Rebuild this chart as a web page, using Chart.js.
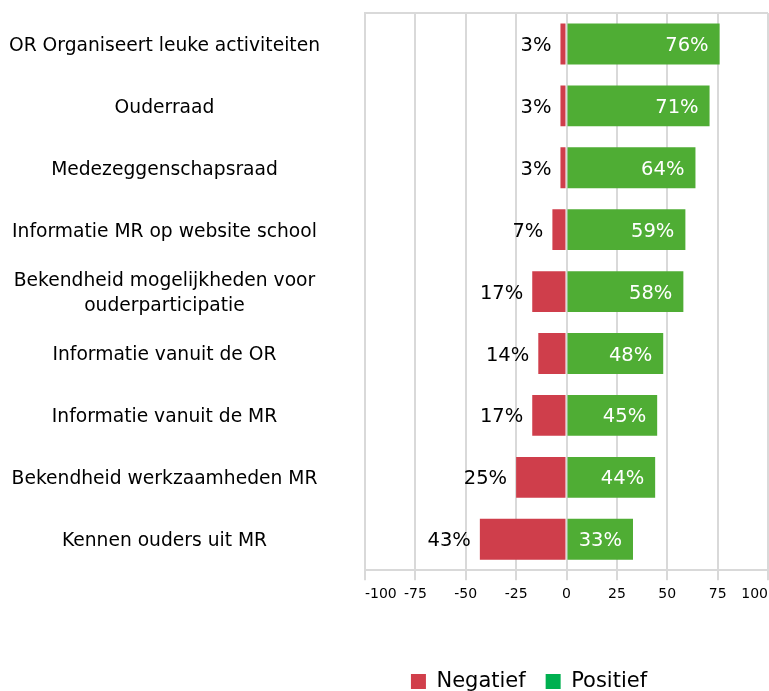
<!DOCTYPE html>
<html>
<head>
<meta charset="utf-8">
<script src="https://cdn.jsdelivr.net/npm/chart.js@4/dist/chart.umd.min.js"></script>
<style>
  html, body { margin: 0; padding: 0; background: #fff; }
  #wrap { width: 769px; height: 691px; }
</style>
</head>
<body>
<div id="wrap"><canvas id="myChart"></canvas></div>
<script>
const categories = [
    'OR Organiseert leuke activiteiten',
    'Ouderraad',
    'Medezeggenschapsraad',
    'Informatie MR op website school',
    ['Bekendheid mogelijkheden voor', 'ouderparticipatie'],
    'Informatie vanuit de OR',
    'Informatie vanuit de MR',
    'Bekendheid werkzaamheden MR',
    'Kennen ouders uit MR'
];
const negatief = [-3, -3, -3, -7, -17, -14, -17, -25, -43];
const positief = [76, 71, 64, 59, 58, 48, 45, 44, 33];
const xTicks = [-100, -75, -50, -25, 0, 25, 50, 75, 100];

const FONT = '"DejaVu Sans", Verdana, sans-serif';

// percent labels next to / inside the bars
const barLabels = {
    id: 'barLabels',
    afterDatasetsDraw(chart) {
        const ctx = chart.ctx;
        ctx.save();
        ctx.font = '19.5px ' + FONT;
        ctx.textBaseline = 'middle';
        ctx.textAlign = 'right';
        chart.getDatasetMeta(0).data.forEach((bar, i) => {
            ctx.fillStyle = '#000';
            ctx.fillText(Math.abs(negatief[i]) + '%', Math.min(bar.x, bar.base) - 9, bar.y + 2);
        });
        chart.getDatasetMeta(1).data.forEach((bar, i) => {
            ctx.fillStyle = '#fff';
            ctx.fillText(positief[i] + '%', bar.x - 11, bar.y + 2);
        });
        ctx.restore();
    }
};

// top line of the plot box + legend placement
const plotBox = {
    id: 'plotBox',
    beforeDatasetsDraw(chart) {
        const {ctx, chartArea: a} = chart;
        ctx.save();
        ctx.strokeStyle = '#d9d9d9';
        ctx.lineWidth = 2;
        ctx.beginPath();
        ctx.moveTo(a.left, a.top);
        ctx.lineTo(a.right, a.top);
        ctx.stroke();
        ctx.restore();
    },
    afterLayout(chart) {
        chart.legend.top += 42;
        chart.legend.bottom += 42;
        chart.legend.left += 145;
        chart.legend.right += 145;
    }
};

const legendColors = ['#d13f4b', '#00b050'];

const myChart = new Chart(document.getElementById('myChart'), {
    type: 'bar',
    data: {
        labels: categories,
        datasets: [{
            label: 'Negatief',
            data: negatief,
            backgroundColor: '#cf3e4b',
            barPercentage: 0.66,
            categoryPercentage: 1
        }, {
            label: 'Positief',
            data: positief,
            backgroundColor: '#4fad34',
            barPercentage: 0.66,
            categoryPercentage: 1
        }]
    },
    options: {
        indexAxis: 'y',
        responsive: true,
        maintainAspectRatio: false,
        animation: false,
        layout: { padding: { top: 13, right: 1, bottom: 31, left: 0 } },
        plugins: {
            tooltip: { enabled: false },
            legend: {
                position: 'bottom',
                labels: {
                    font: { family: FONT, size: 21 },
                    color: '#000',
                    boxWidth: 15,
                    boxHeight: 15,
                    padding: 20,
                    generateLabels(chart) {
                        return chart.data.datasets.map((ds, i) => ({
                            text: ds.label,
                            fillStyle: legendColors[i],
                            strokeStyle: legendColors[i],
                            lineWidth: 0,
                            datasetIndex: i
                        }));
                    }
                }
            }
        },
        scales: {
            x: {
                stacked: true,
                min: -100,
                max: 100,
                afterBuildTicks(axis) {
                    axis.ticks = xTicks.map(v => ({ value: v }));
                },
                afterFit(axis) {
                    axis.paddingLeft = 0;
                    axis.paddingRight = 0;
                },
                ticks: {
                    align: 'inner',
                    color: '#000',
                    padding: 6,
                    font: { family: FONT, size: 14 }
                },
                grid: { color: '#d9d9d9', lineWidth: 2, tickLength: 10 },
                border: { color: '#d9d9d9', width: 2 }
            },
            y: {
                stacked: true,
                afterFit(axis) {
                    axis.width = 365;
                    axis.paddingTop = 0;
                    axis.paddingBottom = 0;
                },
                ticks: {
                    color: '#000',
                    crossAlign: 'center',
                    padding: 37,
                    labelOffset: 2,
                    font: { family: FONT, size: 18.7, lineHeight: 1.34 }
                },
                grid: { display: false },
                border: { color: '#d9d9d9', width: 2 }
            }
        }
    },
    plugins: [barLabels, plotBox]
});
</script>
</body>
</html>
